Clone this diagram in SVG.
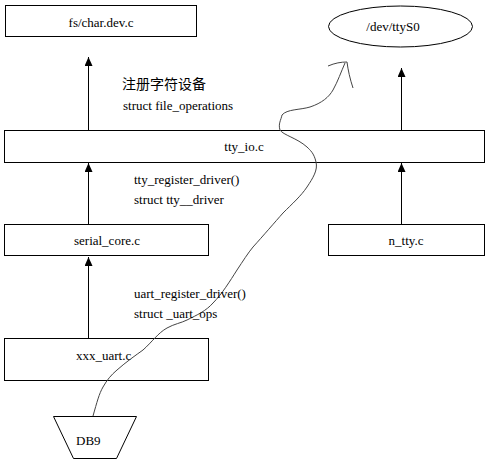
<svg xmlns="http://www.w3.org/2000/svg" width="491" height="461" viewBox="0 0 491 461">
<style>
.box{fill:#fff;stroke:#000;stroke-width:1}
.t{font-family:"Liberation Serif","Times New Roman",serif;font-size:13px;fill:#000}
.c{text-anchor:middle}
.cjk{font-family:"Liberation Serif","Noto Sans CJK SC",sans-serif;font-size:14px;fill:#000}
.ln{stroke:#000;stroke-width:1;fill:none}
</style>
<defs>
<marker id="ah" markerWidth="10" markerHeight="8" refX="9" refY="4" orient="auto" markerUnits="userSpaceOnUse" viewBox="0 0 10 8">
<path d="M0,0 L9,4 L0,8 Z" fill="#000"/>
</marker>
</defs>
<rect width="491" height="461" fill="#fff"/>
<g id="fs_char_dev">
<rect class="box" x="5.5" y="5.5" width="191" height="31"/>
<text class="t c" x="101" y="27">fs/char.dev.c</text>
</g>
<g id="dev_ttyS0">
<ellipse class="box" cx="400.5" cy="26.5" rx="72" ry="20.5"/>
<text class="t c" x="393" y="31">/dev/ttyS0</text>
</g>
<g id="tty_io">
<rect class="box" x="4.5" y="130.5" width="480" height="32"/>
<text class="t c" x="244" y="151">tty_io.c</text>
</g>
<g id="serial_core">
<rect class="box" x="4.5" y="224.5" width="204" height="31"/>
<text class="t c" x="107" y="245">serial_core.c</text>
</g>
<g id="n_tty">
<rect class="box" x="328.5" y="224.5" width="156" height="31"/>
<text class="t c" x="406" y="245">n_tty.c</text>
</g>
<g id="xxx_uart">
<rect class="box" x="4.5" y="338.5" width="204" height="42"/>
<text class="t" x="76" y="360">xxx_uart.c</text>
</g>
<g id="db9">
<path class="box" d="M53.5,416.5 L136.5,416.5 L116.5,458.5 L73.5,458.5 Z"/>
<text class="t" x="76" y="445">DB9</text>
</g>
<g id="connectors">
<line class="ln" x1="88.5" y1="130" x2="88.5" y2="57" marker-end="url(#ah)"/>
<line class="ln" x1="401.5" y1="130" x2="401.5" y2="68" marker-end="url(#ah)"/>
<line class="ln" x1="88.5" y1="224" x2="88.5" y2="163" marker-end="url(#ah)"/>
<line class="ln" x1="401.5" y1="224" x2="401.5" y2="163" marker-end="url(#ah)"/>
<line class="ln" x1="88.5" y1="338" x2="88.5" y2="257" marker-end="url(#ah)"/>
<path d="M93,416 C97,402 99,394 103,387 C107,380 111,375 117,370 C126,362 136,355 143,350 C152,342 158,333 167,328 C174,324 181,323 187,320 C197,315 206,311 213,303 C222,294 230,281 237,270 C243,261 248,253 253,247 C263,236 275,222 283,213 C292,204 301,196 307,187 C313,178 318,170 316,162 C314,153 310,150 307,147 C297,138 283,135 280,130 C278,124 281,120 282,115 C287,109 300,110 310,107 C322,103 329,97 333,90 C338,81 341,72 345,63" fill="none" stroke="#444" stroke-width="1"/>
<path d="M328,66 C335,63 341,62 347,62 C348,70 350,79 353,88" fill="none" stroke="#444" stroke-width="1"/>
</g>
<g id="labels">
<text class="cjk" x="122" y="89">注册字符设备</text>
<text class="t" x="123" y="110">struct file_operations</text>
<text class="t" x="134" y="184">tty_register_driver()</text>
<text class="t" x="134" y="204">struct tty__driver</text>
<text class="t" x="134" y="298">uart_register_driver()</text>
<text class="t" x="134" y="318">struct _uart_ops</text>
</g>
</svg>
